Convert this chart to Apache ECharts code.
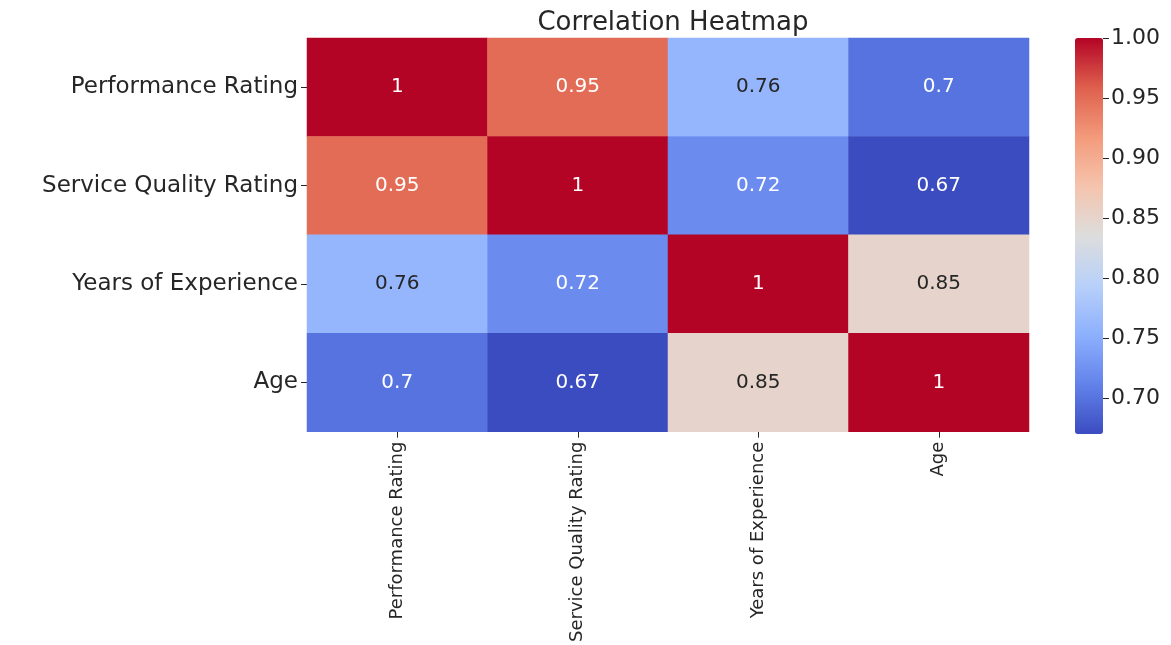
<!DOCTYPE html>
<html>
<head>
<meta charset="utf-8">
<script src="https://cdn.jsdelivr.net/npm/echarts@6/dist/echarts.min.js"></script>
<style>
html,body{margin:0;padding:0;background:#fff;}
#chart{width:1171px;height:645px;}
</style>
</head>
<body>
<div id="chart"></div>
<script>
const categories = ['Performance Rating', 'Service Quality Rating', 'Years of Experience', 'Age'];
const rowPerformance = [1, 0.95, 0.76, 0.7];
const rowService = [0.95, 1, 0.72, 0.67];
const rowYears = [0.76, 0.72, 1, 0.85];
const rowAge = [0.7, 0.67, 0.85, 1];
const colorbarTicks = [0.70, 0.75, 0.80, 0.85, 0.90, 0.95, 1.00];
const valueMin = 0.67;
const valueMax = 1.0;

const rows = [rowPerformance, rowService, rowYears, rowAge];
const coolwarm = ['#3b4cc0', '#6282ea', '#8db0fe', '#b8d0f9', '#dddddd', '#f5c4ad', '#f49a7b', '#de604d', '#b40426'];
const FONT = 'DejaVu Sans';

function hexToRgb(h){return [parseInt(h.substr(1,2),16),parseInt(h.substr(3,2),16),parseInt(h.substr(5,2),16)];}
function colorFor(v){
  const t = Math.max(0, Math.min(1, (v - valueMin) / (valueMax - valueMin)));
  const p = t * (coolwarm.length - 1);
  const i = Math.min(coolwarm.length - 2, Math.floor(p));
  const f = p - i;
  const a = hexToRgb(coolwarm[i]), b = hexToRgb(coolwarm[i+1]);
  return a.map((c,k)=>c + (b[k]-c)*f);
}
function lum(rgb){
  const c = rgb.map(x=>{x/=255;return x<=0.03928?x/12.92:Math.pow((x+0.055)/1.055,2.4);});
  return 0.2126*c[0]+0.7152*c[1]+0.0722*c[2];
}

const data = [];
rows.forEach((row, r) => {
  row.forEach((v, c) => {
    const light = lum(colorFor(v)) > 0.408;
    data.push({ value: [c, r, v], label: { color: light ? '#262626' : '#ffffff' } });
  });
});

const chart = echarts.init(document.getElementById('chart'), null, { renderer: 'canvas' });
chart.setOption({
  animation: false,
  backgroundColor: '#ffffff',
  title: {
    text: 'Correlation Heatmap',
    left: 668, top: 5, textAlign: 'center',
    textStyle: { fontFamily: FONT, fontSize: 26, fontWeight: 'normal', color: '#262626' }
  },
  grid: [
    { left: 307, top: 38, width: 722, height: 396 },
    { left: 1075, top: 38, width: 28, height: 396 }
  ],
  xAxis: [
    {
      type: 'category', data: categories, gridIndex: 0, position: 'bottom',
      axisLine: { show: false },
      axisTick: { show: true, alignWithLabel: true, length: 6, lineStyle: { color: '#262626' } },
      axisLabel: { rotate: 90, fontFamily: FONT, fontSize: 18, color: '#262626', margin: 10, interval: 0 },
      splitLine: { show: false }
    },
    { type: 'category', data: [''], gridIndex: 1, show: false }
  ],
  yAxis: [
    {
      type: 'category', data: categories, gridIndex: 0, inverse: true,
      axisLine: { show: false },
      axisTick: { show: true, alignWithLabel: true, length: 6, lineStyle: { color: '#262626' } },
      axisLabel: { fontFamily: FONT, fontSize: 23, color: '#262626', margin: 9, interval: 0 },
      splitLine: { show: false }
    },
    {
      type: 'value', gridIndex: 1, position: 'right', min: valueMin, max: valueMax,
      axisLine: { show: false },
      axisTick: { show: true, length: 6, customValues: colorbarTicks, lineStyle: { color: '#262626' } },
      axisLabel: { customValues: colorbarTicks, fontFamily: FONT, fontSize: 22, color: '#262626', margin: 8,
        formatter: v => Number(v).toFixed(2) },
      splitLine: { show: false }
    }
  ],
  visualMap: {
    type: 'continuous', min: valueMin, max: valueMax, calculable: false, realtime: false,
    orient: 'vertical', left: 1075, top: 38, itemWidth: 28, itemHeight: 396,
    padding: 0, text: null, showLabel: false, seriesIndex: 0,
    inRange: { color: coolwarm },
    hoverLink: false
  },
  series: [
    {
      type: 'heatmap', xAxisIndex: 0, yAxisIndex: 0, data: data,
      label: { show: true, fontFamily: FONT, fontSize: 20, formatter: p => String(p.value[2]) },
      itemStyle: { borderWidth: 0 },
      emphasis: { disabled: true }
    }
  ]
});
</script>
</body>
</html>
